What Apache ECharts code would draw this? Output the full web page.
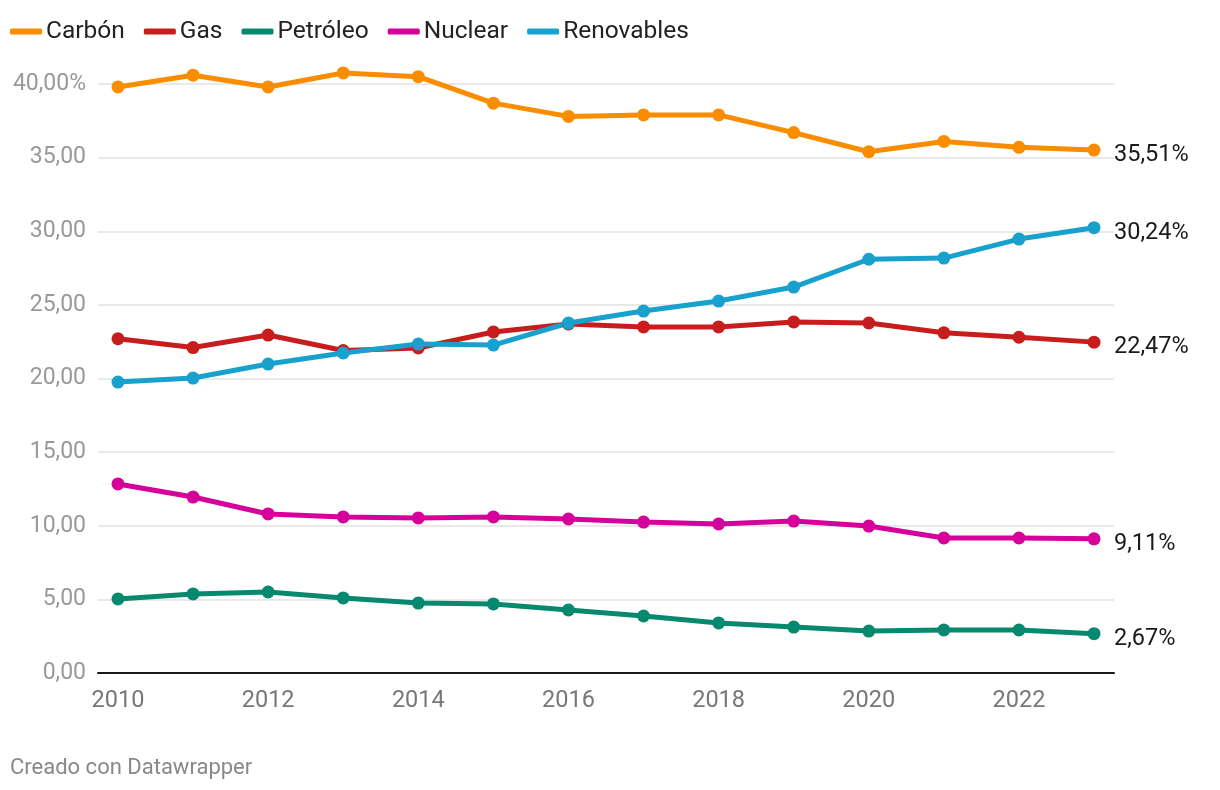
<!DOCTYPE html>
<html>
<head>
<meta charset="utf-8">
<script src="https://cdn.jsdelivr.net/npm/echarts@6/dist/echarts.min.js"></script>
<style>
html,body{margin:0;padding:0;background:#fff;}
#chart{width:1220px;height:790px;}
</style>
</head>
<body>
<div id="chart"></div>
<script>
const years = [2010,2011,2012,2013,2014,2015,2016,2017,2018,2019,2020,2021,2022,2023];
const carbon = [39.8,40.6,39.8,40.75,40.5,38.7,37.8,37.9,37.9,36.7,35.4,36.1,35.7,35.51];
const gas = [22.7,22.1,22.95,21.9,22.07,23.16,23.7,23.5,23.5,23.84,23.77,23.1,22.8,22.47];
const petroleo = [5.03,5.37,5.5,5.1,4.75,4.69,4.28,3.87,3.4,3.12,2.85,2.92,2.92,2.67];
const nuclear = [12.84,11.95,10.8,10.6,10.53,10.6,10.46,10.25,10.12,10.32,9.98,9.17,9.17,9.11];
const renovables = [19.76,20.03,20.98,21.73,22.34,22.27,23.77,24.58,25.26,26.21,28.1,28.18,29.47,30.24];
const xTicks = [2010,2012,2014,2016,2018,2020,2022];
const seriesNames = ['Carbón','Gas','Petróleo','Nuclear','Renovables'];
const seriesColors = ['#fa8c00','#c71e1d','#07896f','#d6009a','#18a1cd'];
const seriesData = [carbon,gas,petroleo,nuclear,renovables];

const fmt = v => v.toFixed(2).replace('.', ',');

const chart = echarts.init(document.getElementById('chart'));
chart.setOption({
  animation:false,
  textStyle:{fontFamily:'Roboto'},
  legend:{
    left:5, top:14, itemWidth:32, itemHeight:6, itemGap:19,
    icon:'roundRect',
    textStyle:{fontSize:24.5, color:'#222', fontFamily:'Roboto', padding:[0,0,0,-1]},
    data:seriesNames
  },
  grid:{left:98, right:106, top:84, bottom:117},
  xAxis:{
    type:'value', min:2009.734, max:2023.266,
    axisLine:{show:true, lineStyle:{color:'#1a1a1a', width:2}},
    axisTick:{show:false},
    splitLine:{show:false},
    axisLabel:{customValues:xTicks, color:'#777', fontSize:23.5, margin:16, formatter:v=>String(v)}
  },
  yAxis:{
    type:'value', min:0, max:40, interval:5,
    axisLine:{show:false}, axisTick:{show:false},
    splitLine:{lineStyle:{color:'#e2e2e2', width:1.5}},
    axisLabel:{color:'#999', fontSize:23, margin:12,
      formatter:v => v===40 ? fmt(v)+'%' : fmt(v)}
  },
  series: seriesNames.map((n,i)=>({
    name:n, type:'line',
    data: years.map((y,j)=>[y, seriesData[i][j]]),
    color: seriesColors[i],
    lineStyle:{width:5},
    symbol:'circle', symbolSize:13,
    clip:false,
    endLabel:{show:true, distance:20, offset:[0,5], color:'#1a1a1a', fontSize:23.5,
      formatter:p=>fmt(p.value[1])+'%'}
  })),
  graphic:[{type:'text', left:10, top:757, style:{text:'Creado con Datawrapper', fill:'#888', fontSize:22, fontFamily:'Roboto'}}]
});
</script>
</body>
</html>
